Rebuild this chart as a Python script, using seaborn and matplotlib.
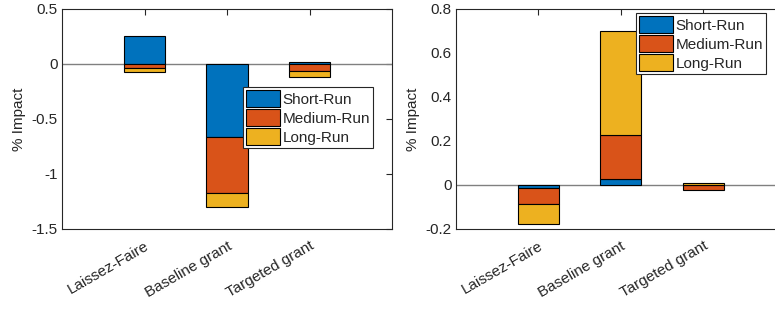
import numpy as np
import seaborn as sns
import matplotlib.pyplot as plt
from matplotlib.ticker import FuncFormatter

categories = ['Laissez-Faire', 'Baseline grant', 'Targeted grant']
series = ['Short-Run', 'Medium-Run', 'Long-Run']

# left panel
left_short = [0.25, -0.66, 0.018]
left_medium = [-0.04, -0.51, -0.063]
left_long = [-0.03, -0.133, -0.054]

# right panel
right_short = [-0.016, 0.025, 0.002]
right_medium = [-0.07, 0.204, -0.021]
right_long = [-0.092, 0.47, 0.008]

colors = ['#0072BD', '#D95319', '#EDB120']

sns.set_style('white')
plt.rcParams['font.family'] = ['Liberation Sans', 'DejaVu Sans']
plt.rcParams['axes.unicode_minus'] = False
plt.rcParams['font.size'] = 11


def stacked(ax, data, ylim, yticks, legend_anchor):
    x = np.arange(1, len(categories) + 1)
    pos_base = np.zeros(len(categories))
    neg_base = np.zeros(len(categories))
    handles = []
    for vals, c, name in zip(data, colors, series):
        vals = np.array(vals)
        bottom = np.where(vals >= 0, pos_base, neg_base)
        h = ax.bar(x, vals, width=0.5, bottom=bottom, color=c,
                   edgecolor='black', linewidth=0.8, label=name, zorder=2)
        handles.append(h)
        pos_base += np.clip(vals, 0, None)
        neg_base += np.clip(vals, None, 0)
    ax.axhline(0, color='#808080', lw=1.0, zorder=1)
    ax.set_xlim(0, 4)
    ax.set_ylim(*ylim)
    ax.set_yticks(yticks)
    ax.yaxis.set_major_formatter(FuncFormatter(lambda v, p: f'{v:g}'))
    ax.set_xticks(x)
    ax.set_xticklabels(categories, rotation=30, ha='right',
                       rotation_mode='anchor')
    ax.set_ylabel('% Impact', labelpad=4, fontsize=11)
    ax.tick_params(direction='in', length=4, width=0.8, color='#262626',
                   top=True, right=True, labelsize=11, labelcolor='#262626',
                   pad=3)
    ax.tick_params(axis='x', pad=7)
    for s in ax.spines.values():
        s.set_color('#262626')
        s.set_linewidth(0.8)
        s.set_visible(True)
    leg = ax.legend(handles=handles, loc='upper left',
                    bbox_to_anchor=legend_anchor,
                    bbox_transform=ax.figure.transFigure,
                    fancybox=False, framealpha=1, edgecolor='#262626',
                    handlelength=2.2, handleheight=1.35, handletextpad=0.2,
                    labelspacing=0.12, borderpad=0.2, borderaxespad=0,
                    fontsize=11)
    leg.get_frame().set_linewidth(0.8)


fig = plt.figure(figsize=(7.75, 3.09), dpi=100)
ax1 = fig.add_axes([0.080, 0.259, 0.426, 0.712])
ax2 = fig.add_axes([0.588, 0.259, 0.426, 0.712])

stacked(ax1, [left_short, left_medium, left_long], (-1.5, 0.5),
        [-1.5, -1, -0.5, 0, 0.5], (0.3135, 0.7184))
stacked(ax2, [right_short, right_medium, right_long], (-0.2, 0.8),
        [-0.2, 0, 0.2, 0.4, 0.6, 0.8], (0.8206, 0.958))

fig.savefig('out.png', dpi=100)
